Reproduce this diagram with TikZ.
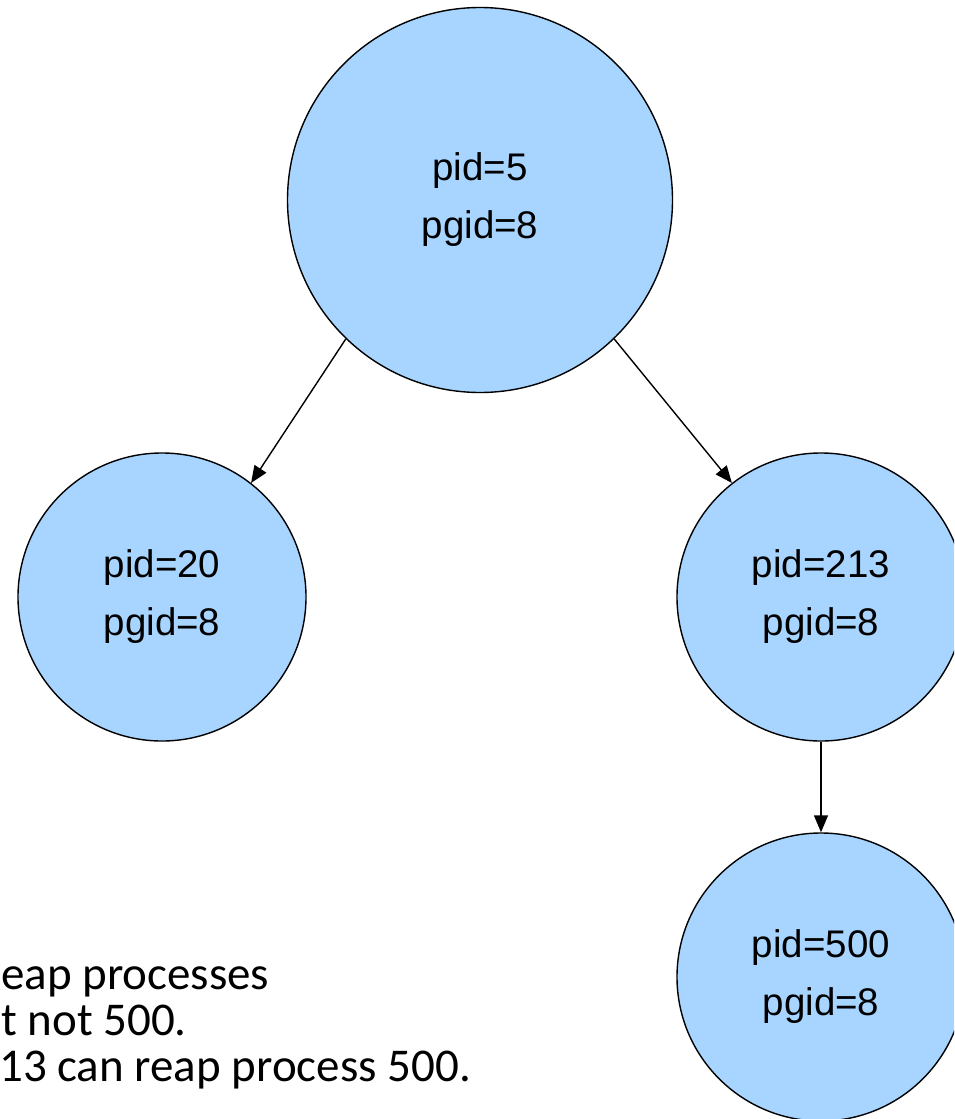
\documentclass[tikz,border=0pt]{standalone}
\usepackage{fontspec}
\setmainfont{Liberation Sans}
\newfontfamily\calib{Carlito}
\usetikzlibrary{arrows.meta}
\definecolor{procfill}{RGB}{168,213,255}
\tikzset{
  proc/.style={circle, draw=black, line width=1.4pt, fill=procfill, inner sep=0pt,
    minimum size=#1, align=center, font=\fontsize{38.5}{58}\selectfont},
  link/.style={line width=1.4pt, -{Triangle[length=17pt,width=14pt]}},
  note/.style={anchor=base west, inner sep=0pt, font=\calib\fontsize{47}{56}\selectfont}
}
\begin{document}
\begin{tikzpicture}[x=1pt,y=-1pt]
\useasboundingbox (0,0) rectangle (954,1119);
\clip (0,0) rectangle (954,1119);
\node[proc=385pt] (p5) at (480,200) {pid=5\\pgid=8};
\node[proc=288pt] (p20) at (162,597) {pid=20\\pgid=8};
\node[proc=288pt] (p213) at (821,597) {pid=213\\pgid=8};
\node[proc=288pt] (p500) at (821,977) {pid=500\\pgid=8};
\draw[link] (p5.226) -- (p20.52);
\draw[link] (p5.314) -- (p213.128);
\draw[link] (p213.south) -- (p500.north);
\node[note] (l1) at (1,989) {eap processes};
\node[note] (l2) at (1,1035) {t not 500.};
\node[note] (l3) at (-1,1081) {13 can reap process 500.};
\end{tikzpicture}
\end{document}
